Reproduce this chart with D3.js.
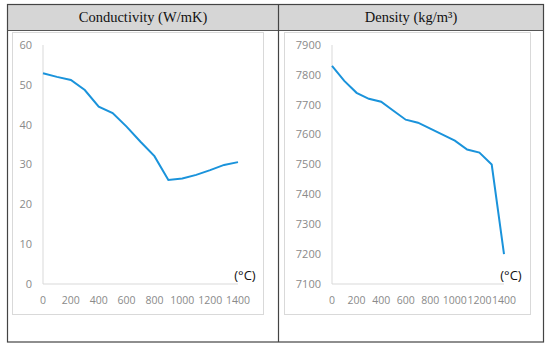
<!DOCTYPE html>
<html>
<head>
<meta charset="utf-8">
<script src="https://cdn.jsdelivr.net/npm/d3@7"></script>
<style>
  body { margin: 0; background: #fff; }
</style>
</head>
<body>
<script>
var w = 550;
var h = 349;

// data
var temps = [0, 100, 200, 300, 400, 500, 600, 700, 800, 900, 1000, 1100, 1200, 1300, 1400];
var conductivity = [52.9, 52, 51.2, 48.7, 44.5, 42.9, 39.5, 35.7, 32.1, 26.1, 26.5, 27.4, 28.6, 29.9, 30.6];
var density = [7830, 7780, 7740, 7720, 7710, 7680, 7650, 7640, 7620, 7600, 7580, 7550, 7540, 7500, 7200];
var xTicks = [0, 200, 400, 600, 800, 1000, 1200, 1400];
var condTicks = [0, 10, 20, 30, 40, 50, 60];
var densTicks = [7100, 7200, 7300, 7400, 7500, 7600, 7700, 7800, 7900];
var titles = ["Conductivity (W/mK)", "Density (kg/m\u00b3)"];

var svg = d3.select("body")
    .append("svg")
    .attr("width", w)
    .attr("height", h);

// outer table
svg.append("rect")
    .attr("x", 7.5).attr("y", 4.5)
    .attr("width", 536).attr("height", 26)
    .attr("fill", "#d6d6d6");
svg.append("rect")
    .attr("x", 7.5).attr("y", 4.5)
    .attr("width", 536).attr("height", 337.5)
    .attr("fill", "none")
    .attr("stroke", "#444")
    .attr("stroke-width", 1.2);
svg.append("line")
    .attr("x1", 7.5).attr("x2", 543.5)
    .attr("y1", 30.5).attr("y2", 30.5)
    .attr("stroke", "#555");
svg.append("line")
    .attr("x1", 278.5).attr("x2", 278.5)
    .attr("y1", 4.5).attr("y2", 342)
    .attr("stroke", "#444")
    .attr("stroke-width", 1.2);

svg.selectAll(".title")
    .data(titles)
    .enter()
    .append("text")
    .attr("x", (d, i) => i == 0 ? 143 : 411)
    .attr("y", 22)
    .attr("text-anchor", "middle")
    .attr("font-family", "'Liberation Serif', serif")
    .attr("font-size", 14.5)
    .attr("fill", "#111")
    .text(d => d);

function drawChart(frame, x0, x1, yDomain, ticks, values) {
    svg.append("rect")
        .attr("x", frame[0] + 0.5).attr("y", 32.5)
        .attr("width", frame[1] - frame[0]).attr("height", 282)
        .attr("fill", "none")
        .attr("stroke", "#d9d9d9");

    var xScale = d3.scaleLinear()
        .domain([0, 1400])
        .range([x0, x1]);
    var yScale = d3.scaleLinear()
        .domain(yDomain)
        .range([284, 45]);

    var g = svg.append("g");

    g.append("line")
        .attr("x1", x0).attr("x2", x0)
        .attr("y1", 45).attr("y2", 284)
        .attr("stroke", "#d9d9d9");
    g.append("line")
        .attr("x1", x0).attr("x2", x1)
        .attr("y1", 284).attr("y2", 284)
        .attr("stroke", "#d9d9d9");

    g.selectAll(".ytick")
        .data(ticks)
        .enter()
        .append("text")
        .attr("x", x0 - 11)
        .attr("y", d => yScale(d))
        .attr("dy", "0.35em")
        .attr("text-anchor", "end")
        .attr("font-family", "'Open Sans', sans-serif")
        .attr("font-size", 11)
        .attr("fill", "#8a8a8a")
        .text(d => d);

    g.selectAll(".xtick")
        .data(xTicks)
        .enter()
        .append("text")
        .attr("x", d => xScale(d))
        .attr("y", 300)
        .attr("dy", "0.35em")
        .attr("text-anchor", "middle")
        .attr("font-family", "'Open Sans', sans-serif")
        .attr("font-size", 10.5)
        .attr("fill", "#8a8a8a")
        .text(d => d);

    var line = d3.line()
        .x((d, i) => xScale(temps[i]))
        .y(d => yScale(d));

    g.append("path")
        .datum(values)
        .attr("d", line)
        .attr("fill", "none")
        .attr("stroke", "#1a93db")
        .attr("stroke-width", 2);

    g.append("text")
        .attr("x", x1 + 7)
        .attr("y", 275)
        .attr("dy", "0.35em")
        .attr("text-anchor", "middle")
        .attr("font-family", "'Open Sans', sans-serif")
        .attr("font-size", 13)
        .attr("fill", "#111")
        .text("(\u00b0C)");
}

drawChart([12, 263], 43, 238, [0, 60], condTicks, conductivity);
drawChart([284, 530], 332, 504, [7100, 7900], densTicks, density);
</script>
</body>
</html>
